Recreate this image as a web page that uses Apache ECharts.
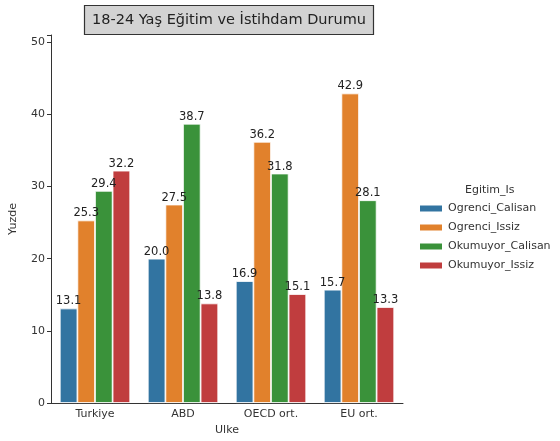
<!DOCTYPE html>
<html><head><meta charset="utf-8">
<script src="https://cdn.jsdelivr.net/npm/echarts@6/dist/echarts.min.js"></script>
<style>html,body{margin:0;padding:0;background:#fff}#c{width:560px;height:441px}</style>
</head><body><div id="c"></div>
<script>
const categories = ['Turkiye', 'ABD', 'OECD ort.', 'EU ort.'];
const seriesNames = ['Ogrenci_Calisan', 'Ogrenci_Issiz', 'Okumuyor_Calisan', 'Okumuyor_Issiz'];
const ogrenciCalisan = [13.1, 20.0, 16.9, 15.7];
const ogrenciIssiz = [25.3, 27.5, 36.2, 42.9];
const okumuyorCalisan = [29.4, 38.7, 31.8, 28.1];
const okumuyorIssiz = [32.2, 13.8, 15.1, 13.3];
const yTicks = [0, 10, 20, 30, 40, 50];
const colors = ['#3274a1', '#e1812c', '#3a923a', '#c03d3e'];
const values = [ogrenciCalisan, ogrenciIssiz, okumuyorCalisan, okumuyorIssiz];
const F = 'DejaVu Sans';
const chart = echarts.init(document.getElementById('c'));
chart.setOption({
  animation: false,
  textStyle: { fontFamily: F },
  title: [
    { text: '18-24 Yaş Eğitim ve İstihdam Durumu', left: 84, top: 5,
      backgroundColor: '#d3d3d3', borderColor: '#333', borderWidth: 1.2,
      padding: [8, 8, 7, 8],
      textStyle: { fontFamily: F, fontSize: 14.5, fontWeight: 'normal', color: '#222' } },
    { text: 'Egitim_Is', left: 460, top: 180,
      textStyle: { fontFamily: F, fontSize: 11, fontWeight: 'normal', color: '#333' } }
  ],
  legend: {
    data: seriesNames, orient: 'vertical', left: 413, top: 198,
    itemWidth: 24, itemHeight: 8, itemGap: 8, icon: 'rect',
    textStyle: { fontFamily: F, fontSize: 11, color: '#333' }
  },
  grid: { left: 51, right: 157, top: 35, bottom: 38 },
  xAxis: {
    type: 'category', data: categories,
    name: 'Ulke', nameLocation: 'middle', nameGap: 22,
    nameTextStyle: { fontFamily: F, fontSize: 11, color: '#333' },
    axisLine: { lineStyle: { color: '#333', width: 1 } },
    axisTick: { alignWithLabel: true, length: 4, lineStyle: { color: '#333' } },
    axisLabel: { fontFamily: F, fontSize: 11, color: '#333', margin: 6 }
  },
  yAxis: {
    type: 'value', min: 0, max: 51, interval: 10,
    name: 'Yuzde', nameLocation: 'middle', nameGap: 32, nameRotate: 90,
    nameTextStyle: { fontFamily: F, fontSize: 11, color: '#333' },
    axisLine: { show: true, lineStyle: { color: '#333', width: 1 } },
    axisTick: { show: true, length: 4, lineStyle: { color: '#333' } },
    axisLabel: { fontFamily: F, fontSize: 11, color: '#333', margin: 6,
      formatter: v => yTicks.includes(v) ? String(v) : '' },
    splitLine: { show: false }
  },
  series: seriesNames.map((n, i) => ({
    name: n, type: 'bar', data: values[i],
    barGap: '0%', barCategoryGap: '20%',
    itemStyle: { color: colors[i], borderColor: '#fff', borderWidth: 0.8 },
    label: { show: true, position: 'top', distance: 1, fontFamily: F, fontSize: 11.5, color: '#222',
      formatter: p => p.value.toFixed(1) }
  }))
});
</script></body></html>
